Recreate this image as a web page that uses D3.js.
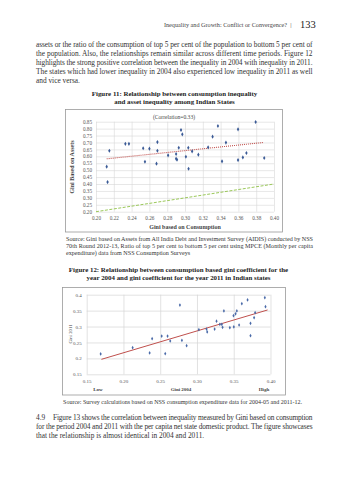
<!DOCTYPE html>
<html><head><meta charset="utf-8">
<script src="https://cdn.jsdelivr.net/npm/d3@7"></script>
<style>body{margin:0;background:#fff}svg{display:block}</style>
</head><body>
<script>
// ---- Figure 11 data ----
const fig11ConsGini = [0.212,0.213,0.215,0.233,0.237,0.253,0.255,0.260,0.269,0.269,0.268,0.281,0.290,0.290,0.291,0.293,0.2955,0.297,0.301,0.3037,0.304,0.308,0.315,0.326,0.331,0.337,0.3416,0.346,0.3596,0.3596,0.365,0.369,0.3794,0.389];
const fig11AssetGini = [0.525,0.414,0.640,0.690,0.690,0.658,0.561,0.655,0.703,0.640,0.547,0.607,0.617,0.583,0.575,0.662,0.790,0.759,0.597,0.662,0.510,0.636,0.612,0.665,0.742,0.819,0.564,0.699,0.795,0.573,0.592,0.624,0.848,0.588];
const fig11TrendX = [0.212,0.388];
const fig11TrendY = [0.582,0.700];
const fig11EqualX = [0.20,0.40];
const fig11EqualY = [0.20,0.40];
const fig11XTicks = [0.20,0.22,0.24,0.26,0.28,0.30,0.32,0.34,0.36,0.38,0.40];
const fig11YTicks = [0.20,0.25,0.30,0.35,0.40,0.45,0.50,0.55,0.60,0.65,0.70,0.75,0.80,0.85];

// ---- Figure 12 data ----
const fig12Gini2004 = [0.169,0.2125,0.2356,0.239,0.252,0.2568,0.260,0.2636,0.2768,0.2795,0.2859,0.3026,0.313,0.3139,0.324,0.3266,0.3311,0.3338,0.3348,0.3366,0.3447,0.3497,0.3501,0.3525,0.3542,0.3573,0.361,0.3688,0.3728,0.3728,0.3777,0.3791,0.3923,0.3932];
const fig12Gini2011 = [0.214,0.2335,0.217,0.262,0.270,0.2147,0.270,0.2546,0.3676,0.2567,0.240,0.290,0.292,0.283,0.292,0.317,0.307,0.307,0.2976,0.349,0.2964,0.334,0.2986,0.340,0.349,0.3048,0.3718,0.3834,0.310,0.2712,0.3278,0.3435,0.3906,0.3623];
const fig12TrendX = [0.170,0.396];
const fig12TrendY = [0.197,0.352];
const fig12XTicks = [0.15,0.20,0.25,0.30,0.35,0.40];
const fig12YTicks = [0.15,0.2,0.25,0.3,0.35,0.4];
const fig12YTickLabels = ["0.15","0.2","0.25","0.3","0.35","0.4"];

const serif = "'Liberation Serif','Times New Roman',serif";
const svg = d3.select("body").append("svg").attr("width",349).attr("height",480);
svg.append("rect").attr("width",349).attr("height",480).attr("fill","#fff");

function txt(x,y,s,opt={}){
  const t = svg.append("text").attr("x",x).attr("y",y).text(s)
    .attr("font-family",serif).attr("font-size",opt.size||7.3).attr("fill",opt.fill||"#333")
    .attr("text-anchor",opt.anchor||"start");
  if(opt.bold) t.attr("font-weight","bold");
  if(opt.width) t.attr("textLength",opt.width).attr("lengthAdjust","spacing");
  return t;
}

// header
txt(287,27,"Inequality and Growth: Conflict or Convergence?",{size:6.2,anchor:"end",fill:"#444"});
txt(291,27,"|",{size:6.5,anchor:"middle",fill:"#444"});
txt(300,28,"133",{size:10.5,fill:"#222"});

// paragraph 1
const p1 = ["assets or the ratio of the consumption of top 5 per cent of the population to bottom 5 per cent of",
"the population. Also, the relationships remain similar across different time periods. Figure 12",
"highlights the strong positive correlation between the inequality in 2004 with inequality in 2011.",
"The states which had lower inequality in 2004 also experienced low inequality in 2011 as well",
"and vice versa."];
p1.forEach((s,i)=>txt(36,47+i*9,s,{size:7.35,width:i<4?276.5:null}));

// figure 11 title
txt(174.5,96,"Figure 11: Relationship between consumption inequality",{size:6.9,bold:true,anchor:"middle",fill:"#222"});
txt(174.5,104,"and asset inequality among Indian States",{size:6.9,bold:true,anchor:"middle",fill:"#222"});

// ---- chart 1 ----
svg.append("rect").attr("x",65.5).attr("y",109.5).attr("width",217).attr("height",122.5)
  .attr("fill","none").attr("stroke","#9a9a9a").attr("stroke-width",0.8);
const x1 = d3.scaleLinear().domain([0.20,0.40]).range([96,274]);
const y1 = d3.scaleLinear().domain([0.20,0.85]).range([211.7,121.7]);
const g1 = svg.append("g");
g1.append("g").attr("transform","translate(0,211.7)")
  .call(d3.axisBottom(x1).tickValues(fig11XTicks).tickSize(-90).tickFormat(""))
  .call(g=>{g.select(".domain").remove();g.selectAll("line").attr("stroke","#d6d6d6").attr("stroke-width",0.6);});
g1.append("g").attr("transform","translate(96,0)")
  .call(d3.axisLeft(y1).tickValues(fig11YTicks).tickSize(-178).tickFormat(""))
  .call(g=>{g.select(".domain").remove();g.selectAll("line").attr("stroke","#d6d6d6").attr("stroke-width",0.6);});
g1.append("g").attr("transform","translate(0,211.7)")
  .call(d3.axisBottom(x1).tickValues(fig11XTicks).tickSize(0).tickPadding(5).tickFormat(d3.format(".2f")))
  .call(g=>{g.select(".domain").remove();g.selectAll("text").attr("font-family",serif).attr("font-size",5.2).attr("fill","#555");});
g1.append("g").attr("transform","translate(96,0)")
  .call(d3.axisLeft(y1).tickValues(fig11YTicks).tickSize(0).tickPadding(4).tickFormat(d3.format(".2f")))
  .call(g=>{g.select(".domain").remove();g.selectAll("text").attr("font-family",serif).attr("font-size",5.2).attr("fill","#555");});
const line1 = d3.line().x(d=>x1(d[0])).y(d=>y1(d[1]));
g1.append("path").datum(d3.zip(fig11EqualX,fig11EqualY)).attr("d",line1)
  .attr("stroke","#9bc85a").attr("stroke-width",1).attr("stroke-dasharray","3,1.5").attr("fill","none");
g1.append("path").datum(d3.zip(fig11TrendX,fig11TrendY)).attr("d",line1)
  .attr("stroke","#c0504d").attr("stroke-width",1.1).attr("stroke-dasharray","1,1").attr("fill","none");
g1.selectAll("path.pt").data(d3.zip(fig11ConsGini,fig11AssetGini)).join("path").attr("class","pt")
  .attr("transform",d=>`translate(${x1(d[0])},${y1(d[1])})`)
  .attr("d",d3.symbol(d3.symbolDiamond,5)).attr("fill","#3a5a96");
txt(174,119,"(Correlation=0.33)",{size:5.6,anchor:"middle",fill:"#444"});
txt(185,228.5,"Gini based on Consumption",{size:6,bold:true,anchor:"middle",fill:"#444"});
svg.append("text").attr("transform","translate(74,167) rotate(-90)").text("Gini Based on Assets")
  .attr("font-family",serif).attr("font-size",6).attr("font-weight","bold").attr("fill","#444").attr("text-anchor","middle");

// source 1
["Source: Gini based on Assets from All India Debt and Investment Survey (AIDIS) conducted by NSS",
 "70th Round 2012-13, Ratio of top 5 per cent to bottom 5 per cent using MPCE (Monthly per capita",
 "expenditure) data from NSS Consumption Surveys"].forEach((s,i)=>txt(66,241+i*7,s,{size:6.1,width:i<2?247:null}));

// figure 12 title
txt(178.5,272,"Figure 12: Relationship between consumption based gini coefficient for the",{size:6.9,bold:true,anchor:"middle",fill:"#222"});
txt(178.5,280,"year 2004 and gini coefficient for the year 2011 in Indian states",{size:6.9,bold:true,anchor:"middle",fill:"#222"});

// ---- chart 2 ----
svg.append("rect").attr("x",62.5).attr("y",287.5).attr("width",223).attr("height",107.5)
  .attr("fill","none").attr("stroke","#9a9a9a").attr("stroke-width",0.8);
const x2 = d3.scaleLinear().domain([0.15,0.40]).range([86.7,270.5]);
const y2 = d3.scaleLinear().domain([0.15,0.40]).range([374.3,294.7]);
const g2 = svg.append("g");
g2.append("g").attr("transform","translate(0,374.3)")
  .call(d3.axisBottom(x2).tickValues(fig12XTicks).tickSize(-79.6).tickFormat(""))
  .call(g=>{g.select(".domain").remove();g.selectAll("line").attr("stroke","#d6d6d6").attr("stroke-width",0.7);});
g2.append("g").attr("transform","translate(86.7,0)")
  .call(d3.axisLeft(y2).tickValues(fig12YTicks).tickSize(-183.8).tickFormat(""))
  .call(g=>{g.select(".domain").remove();g.selectAll("line").attr("stroke","#d6d6d6").attr("stroke-width",0.7);});
g2.append("g").attr("transform","translate(0,374.3)")
  .call(d3.axisBottom(x2).tickValues(fig12XTicks).tickSize(0).tickPadding(5).tickFormat(d3.format(".2f")))
  .call(g=>{g.select(".domain").remove();g.selectAll("text").attr("font-family",serif).attr("font-size",5).attr("fill","#555");});
g2.append("g").attr("transform","translate(86.7,0)")
  .call(d3.axisLeft(y2).tickValues(fig12YTicks).tickSize(0).tickPadding(5).tickFormat((d,i)=>fig12YTickLabels[i]))
  .call(g=>{g.select(".domain").remove();g.selectAll("text").attr("font-family",serif).attr("font-size",5).attr("fill","#555");});
const line2 = d3.line().x(d=>x2(d[0])).y(d=>y2(d[1]));
g2.append("path").datum(d3.zip(fig12TrendX,fig12TrendY)).attr("d",line2)
  .attr("stroke","#c0504d").attr("stroke-width",1).attr("fill","none");
g2.selectAll("path.pt").data(d3.zip(fig12Gini2004,fig12Gini2011)).join("path").attr("class","pt")
  .attr("transform",d=>`translate(${x2(d[0])},${y2(d[1])})`)
  .attr("d",d3.symbol(d3.symbolDiamond,4)).attr("fill","#4a6aa8");
txt(98,390.5,"Low",{size:5,bold:true,anchor:"middle",fill:"#444"});
txt(181,390.5,"Gini 2004",{size:5,bold:true,anchor:"middle",fill:"#444"});
txt(264,390.5,"High",{size:5,bold:true,anchor:"middle",fill:"#444"});
svg.append("text").attr("transform","translate(72,334) rotate(-90)").text("Gini 2011")
  .attr("font-family",serif).attr("font-size",4.8).attr("fill","#444").attr("text-anchor","middle");

txt(182.5,404,"Source: Survey calculations based on NSS consumption expenditure data for 2004-05 and 2011-12.",{size:6,anchor:"middle",fill:"#333"});

// paragraph 4.9
txt(36,420,"4.9",{size:7.35});
txt(53,420,"Figure 13 shows the correlation between inequality measured by Gini based on consumption",{size:7.35,width:259.5});
txt(36,429,"for the period 2004 and 2011 with the per capita net state domestic product. The figure showcases",{size:7.35,width:276.5});
txt(36,438,"that the relationship is almost identical in 2004 and 2011.",{size:7.35});
</script>
</body></html>
